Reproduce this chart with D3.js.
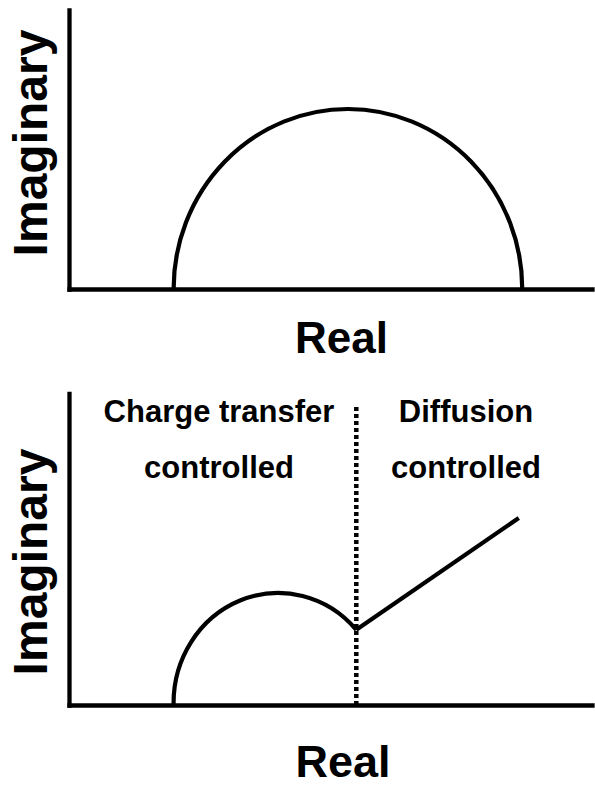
<!DOCTYPE html>
<html>
<head>
<meta charset="utf-8">
<script src="https://cdn.jsdelivr.net/npm/d3@7"></script>
<style>
  html, body { margin: 0; padding: 0; background: #fff; }
  svg text { font-family: "Liberation Sans", Arial, sans-serif; font-weight: bold; fill: #000; }
</style>
</head>
<body>
<svg id="chart" width="595" height="786"></svg>
<script>
// Nyquist sketches (arbitrary impedance units)
// Top: single RC element -> full semicircle
const topRs = 3;          // high-frequency intercept
const topRct = 10;        // charge-transfer resistance (arc diameter)
// Bottom: Randles cell -> semicircle cut off by the Warburg tail
const botRs = 3;
const botRct = 6;
const cutReal = 8.24;     // real value where kinetics hand over to diffusion
const cutImag = 2.05;
const warburg = [[8.24, 2.05], [12.9, 5.1]];
const dividerTop = 8.2;   // top of the dotted regime boundary
const regionLabels = [
  { lines: ["Charge transfer", "controlled"], cx: 219 },
  { lines: ["Diffusion", "controlled"], cx: 466 }
];
const xLabel = "Real";
const yLabel = "Imaginary";

const svg = d3.select("#chart");

function panel(cfg) {
  const x = d3.scaleLinear().domain([0, 15]).range([69, 592]);
  const y = d3.scaleLinear().domain([0, cfg.yMax]).range([cfg.y0, cfg.y1]);
  const g = svg.append("g");

  // bare L-shaped axes
  g.append("g").attr("transform", `translate(0,${y(0)})`)
    .call(d3.axisBottom(x).tickValues([]).tickSizeOuter(0))
    .select(".domain").attr("stroke", "#000").attr("stroke-width", 4.3)
    .attr("stroke-linecap", "square");
  g.append("g").attr("transform", `translate(${x(0)},0)`)
    .call(d3.axisLeft(y).tickValues([]).tickSizeOuter(0))
    .select(".domain").attr("stroke", "#000").attr("stroke-width", 4.3)
    .attr("stroke-linecap", "square");

  // axis titles
  g.append("text").attr("x", cfg.realX).attr("y", cfg.realY)
    .attr("text-anchor", "middle").style("font-size", cfg.realSize + "px").text(xLabel);
  g.append("text")
    .attr("transform", `translate(47,${cfg.imagCy}) rotate(-90)`)
    .attr("text-anchor", "middle").style("font-size", "48px").text(yLabel);

  return { g, x, y };
}

// ---- top panel
{
  const { g, x, y } = panel({ yMax: 7.75, y0: 289, y1: 10, realX: 341.5, realY: 353, realSize: 44, imagCy: 143 });
  const rx = x(topRct / 2) - x(0);
  const ry = y(0) - y(topRct / 2);
  g.append("path")
    .attr("d", `M${x(topRs)},${y(0)} A${rx},${ry} 0 0 1 ${x(topRs + topRct)},${y(0)}`)
    .attr("fill", "none").attr("stroke", "#000").attr("stroke-width", 4.2);
}

// ---- bottom panel
{
  const { g, x, y } = panel({ yMax: 8.5, y0: 705, y1: 393.3, realX: 343, realY: 777, realSize: 45, imagCy: 562 });
  const rx = x(botRct / 2) - x(0);
  const ry = y(0) - y(botRct / 2);

  // kinetic semicircle up to the cut-off point
  g.append("path")
    .attr("d", `M${x(botRs)},${y(0)} A${rx},${ry} 0 0 1 ${x(cutReal)},${y(cutImag)}`)
    .attr("fill", "none").attr("stroke", "#000").attr("stroke-width", 4.2);

  // Warburg diffusion tail
  g.append("path")
    .datum(warburg)
    .attr("d", d3.line().x(d => x(d[0])).y(d => y(d[1])))
    .attr("fill", "none").attr("stroke", "#000").attr("stroke-width", 4.2);

  // dotted regime boundary
  g.append("line")
    .attr("x1", x(cutReal)).attr("x2", x(cutReal))
    .attr("y1", y(0)).attr("y2", y(dividerTop))
    .attr("stroke", "#000").attr("stroke-width", 4.5)
    .attr("stroke-dasharray", "4,3");

  // regime labels
  regionLabels.forEach(r => {
    r.lines.forEach((t, i) => {
      g.append("text").attr("x", r.cx).attr("y", 422 + i * 56)
        .attr("text-anchor", "middle").style("font-size", "31px").text(t);
    });
  });
}
</script>
</body>
</html>
